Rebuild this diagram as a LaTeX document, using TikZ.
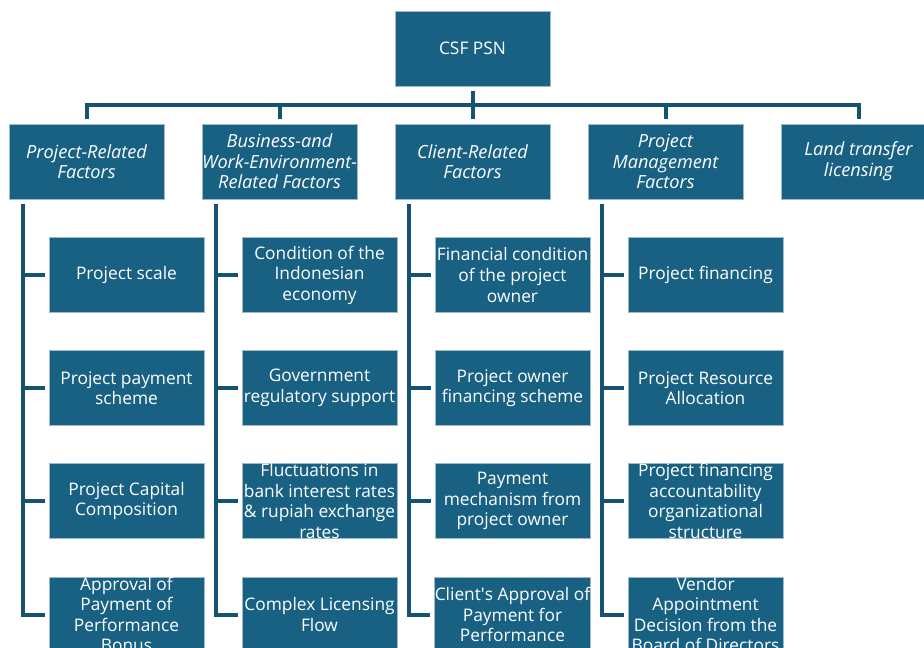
\documentclass[tikz,border=0pt]{standalone}
\usepackage{fontspec}
\setmainfont{Open Sans}
\usepackage{tikz}

\definecolor{boxfill}{HTML}{186182}
\definecolor{boxedge}{HTML}{9DBACB}
\definecolor{linkcol}{HTML}{155470}

\begin{document}
\begin{tikzpicture}[x=0.75pt,y=-0.75pt,
  box/.style={rectangle,draw=boxedge,line width=0.6pt,fill=boxfill,text=white,inner sep=0pt,
    minimum width=116.25pt,minimum height=56.25pt,align=center,font=\fontsize{13}{15.4}\selectfont},
  head/.style={box,font=\fontsize{13.6}{15.4}\selectfont\itshape},
  link/.style={draw=linkcol,line width=3pt}]
  \useasboundingbox (0,0) rectangle (924,648);
  % root and category boxes
  \node[box] (root) at (472.5,48.5) {CSF PSN};
  \node[head] (c1) at (86.5,161.5) {Project-Related\\Factors};
  \node[head] (c2) at (279.5,161.5) {Business-and\\Work-Environment-\\Related Factors};
  \node[head] (c3) at (472.5,161.5) {Client-Related\\Factors};
  \node[head] (c4) at (665.5,161.5) {Project\\Management\\Factors};
  \node[head] (c5) at (858.5,161.5) {Land transfer\\licensing};
  % factor boxes
  \node[box] (p1) at (126.5,275) {Project scale};
  \node[box] (p2) at (126.5,388) {Project payment\\scheme};
  \node[box] (p3) at (126.5,501) {Project Capital\\Composition};
  \node[box] (p4) at (126.5,614.5) {Approval of\\Payment of\\Performance\\Bonus};
  \node[box] (b1) at (319.5,275) {Condition of the\\Indonesian\\economy};
  \node[box] (b2) at (319.5,388) {Government\\regulatory support};
  \node[box] (b3) at (319.5,501) {Fluctuations in\\bank interest rates\\\& rupiah exchange\\rates};
  \node[box] (b4) at (319.5,614.5) {Complex Licensing\\Flow};
  \node[box] (k1) at (512.5,275) {Financial condition\\of the project\\owner};
  \node[box] (k2) at (512.5,388) {Project owner\\financing scheme};
  \node[box] (k3) at (512.5,501) {Payment\\mechanism from\\project owner};
  \node[box] (k4) at (512.5,614.5) {Client\textquotesingle s Approval of\\Payment for\\Performance};
  \node[box] (m1) at (705.5,275) {Project financing};
  \node[box] (m2) at (705.5,388) {Project Resource\\Allocation};
  \node[box] (m3) at (705.5,501) {Project financing\\accountability\\organizational\\structure};
  \node[box] (m4) at (705.5,614.5) {Vendor\\Appointment\\Decision from the\\Board of Directors};
  % top bus
  \coordinate (bus) at (472.5,105.5);
  \draw[link] ([yshift=-3.5pt]root.south) -- (bus);
  \draw[link] ([yshift=3.75pt]c1.north) |- (bus);
  \draw[link] ([yshift=3.75pt]c2.north) |- (bus);
  \draw[link] ([yshift=3.75pt]c3.north) -- (bus);
  \draw[link] ([yshift=3.75pt]c4.north) |- (bus);
  \draw[link] ([yshift=3.75pt]c5.north) |- (bus);
  % spines
  \coordinate (s1) at ([xshift=10.5pt,yshift=-3.75pt]c1.south west);
  \coordinate (s2) at ([xshift=10.5pt,yshift=-3.75pt]c2.south west);
  \coordinate (s3) at ([xshift=10.5pt,yshift=-3.75pt]c3.south west);
  \coordinate (s4) at ([xshift=10.5pt,yshift=-3.75pt]c4.south west);
  \draw[link] (s1) |- ([xshift=-3pt]p4.west);
  \draw[link] ([xshift=-3pt]p1.west) -| (s1);
  \draw[link] ([xshift=-3pt]p2.west) -| (s1);
  \draw[link] ([xshift=-3pt]p3.west) -| (s1);
  \draw[link] (s2) |- ([xshift=-3pt]b4.west);
  \draw[link] ([xshift=-3pt]b1.west) -| (s2);
  \draw[link] ([xshift=-3pt]b2.west) -| (s2);
  \draw[link] ([xshift=-3pt]b3.west) -| (s2);
  \draw[link] (s3) |- ([xshift=-3pt]k4.west);
  \draw[link] ([xshift=-3pt]k1.west) -| (s3);
  \draw[link] ([xshift=-3pt]k2.west) -| (s3);
  \draw[link] ([xshift=-3pt]k3.west) -| (s3);
  \draw[link] (s4) |- ([xshift=-3pt]m4.west);
  \draw[link] ([xshift=-3pt]m1.west) -| (s4);
  \draw[link] ([xshift=-3pt]m2.west) -| (s4);
  \draw[link] ([xshift=-3pt]m3.west) -| (s4);
\end{tikzpicture}
\end{document}
